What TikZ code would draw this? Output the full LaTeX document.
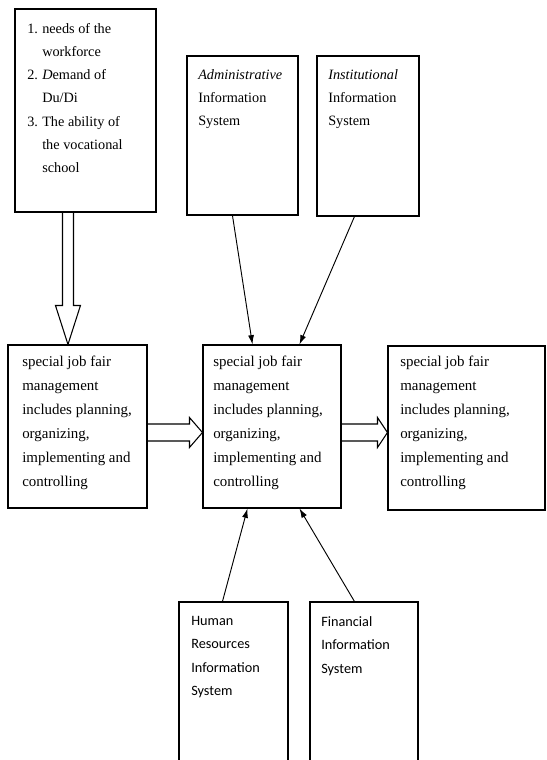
\documentclass[tikz,border=0pt]{standalone}
\usepackage{fontspec}
\setmainfont{Liberation Serif}
\newfontfamily\carl{Carlito}
\usetikzlibrary{calc,fit,arrows.meta}
\begin{document}
\begin{tikzpicture}[x=0.75pt,y=-0.75pt,
  box/.style={draw, line width=0.8pt, inner sep=0pt},
  txt/.style={anchor=north west, inner sep=0pt, align=left},
  toptxt/.style={txt, font=\fontsize{10.7}{17.4}\selectfont},
  midtxt/.style={txt, font=\fontsize{11.2}{18}\selectfont},
  bottxt/.style={txt, font=\carl\fontsize{10.7}{17.6}\selectfont},
  thinarrow/.style={line width=0.7pt, -{Latex[length=7pt,width=4.5pt]}},
  hollow/.style={line width=0.8pt, line join=miter}]
\useasboundingbox (0,0) rectangle (546,760);
\fill[white] (0,0) rectangle (546,760);
\clip (0,0) rectangle (546,760);

% top row
\node[box, fit={(15,9) (156,212)}] (need) {};
\node[box, fit={(187,56) (298,215)}] (adm) {};
\node[box, fit={(317,56) (419,216)}] (ins) {};

\node[toptxt] (needt) at (27,23) {\makebox[11.25pt][l]{1.}needs of the\\
\hspace*{11.25pt}workforce\\
\makebox[11.25pt][l]{2.}\textit{D}emand of\\
\hspace*{11.25pt}Du/Di\\
\makebox[11.25pt][l]{3.}The ability of\\
\hspace*{11.25pt}the vocational\\
\hspace*{11.25pt}school};
\node[toptxt] (admt) at (198,69) {\textit{Administrative}\\Information\\System};
\node[toptxt] (inst) at (328,69) {\textit{Institutional}\\Information\\System};

% middle row
\node[box, fit={(8,345) (147,508)}] (lft) {};
\node[box, fit={(203,345) (341,508)}] (mid) {};
\node[box, fit={(388,346) (545,510)}] (rgt) {};

\node[midtxt] (lftt) at (22,356) {special job fair\\management\\includes planning,\\organizing,\\implementing and\\controlling};
\node[midtxt] (midt) at (213,356) {special job fair\\management\\includes planning,\\organizing,\\implementing and\\controlling};
\node[midtxt] (rgtt) at (400,356) {special job fair\\management\\includes planning,\\organizing,\\implementing and\\controlling};

% bottom row (open at the bottom edge)
\node[box, fit={(179,602) (288,775)}] (hr) {};
\node[box, fit={(310,602) (418,775)}] (fin) {};
\node[bottxt] (hrt) at (191,616) {Human\\Resources\\Information\\System};
\node[bottxt] (fint) at (321,616) {Financial\\Information\\System};

% hollow arrow down
\coordinate (s1) at ($(need.south west)+(53.5,0)$);
\coordinate (e1) at (s1 |- lft.north);
\draw[hollow] ($(s1)+(-5.5,0)$) -- ($(e1)+(-5.5,-39)$) -- ($(e1)+(-12.5,-39)$) -- (e1)
  -- ($(e1)+(12.5,-39)$) -- ($(e1)+(5.5,-39)$) -- ($(s1)+(5.5,0)$);

% hollow arrows right
\coordinate (s2) at ($(lft.east)+(0,6)$);
\coordinate (e2) at (s2 -| mid.west);
\draw[hollow] ($(s2)+(0,-8.5)$) -- ($(e2)+(-13,-8.5)$) -- ($(e2)+(-13,-15)$) -- (e2)
  -- ($(e2)+(-13,15)$) -- ($(e2)+(-13,8.5)$) -- ($(s2)+(0,8.5)$);
\coordinate (s3) at ($(mid.east)+(0,6)$);
\coordinate (e3) at (s3 -| rgt.west);
\draw[hollow] ($(s3)+(0,-8.5)$) -- ($(e3)+(-10,-8.5)$) -- ($(e3)+(-10,-15)$) -- (e3)
  -- ($(e3)+(-10,15)$) -- ($(e3)+(-10,8.5)$) -- ($(s3)+(0,8.5)$);

% thin arrows
\draw[thinarrow] ($(adm.south west)+(46,0)$) -- ($(mid.north west)+(50,0)$);
\draw[thinarrow] ($(ins.south west)+(38,0)$) -- ($(mid.north west)+(97,0)$);
\draw[thinarrow] ($(hr.north west)+(44,0)$) -- ($(mid.south west)+(45,0)$);
\draw[thinarrow] ($(fin.north west)+(45,0)$) -- ($(mid.south west)+(97,0)$);
\end{tikzpicture}
\end{document}
